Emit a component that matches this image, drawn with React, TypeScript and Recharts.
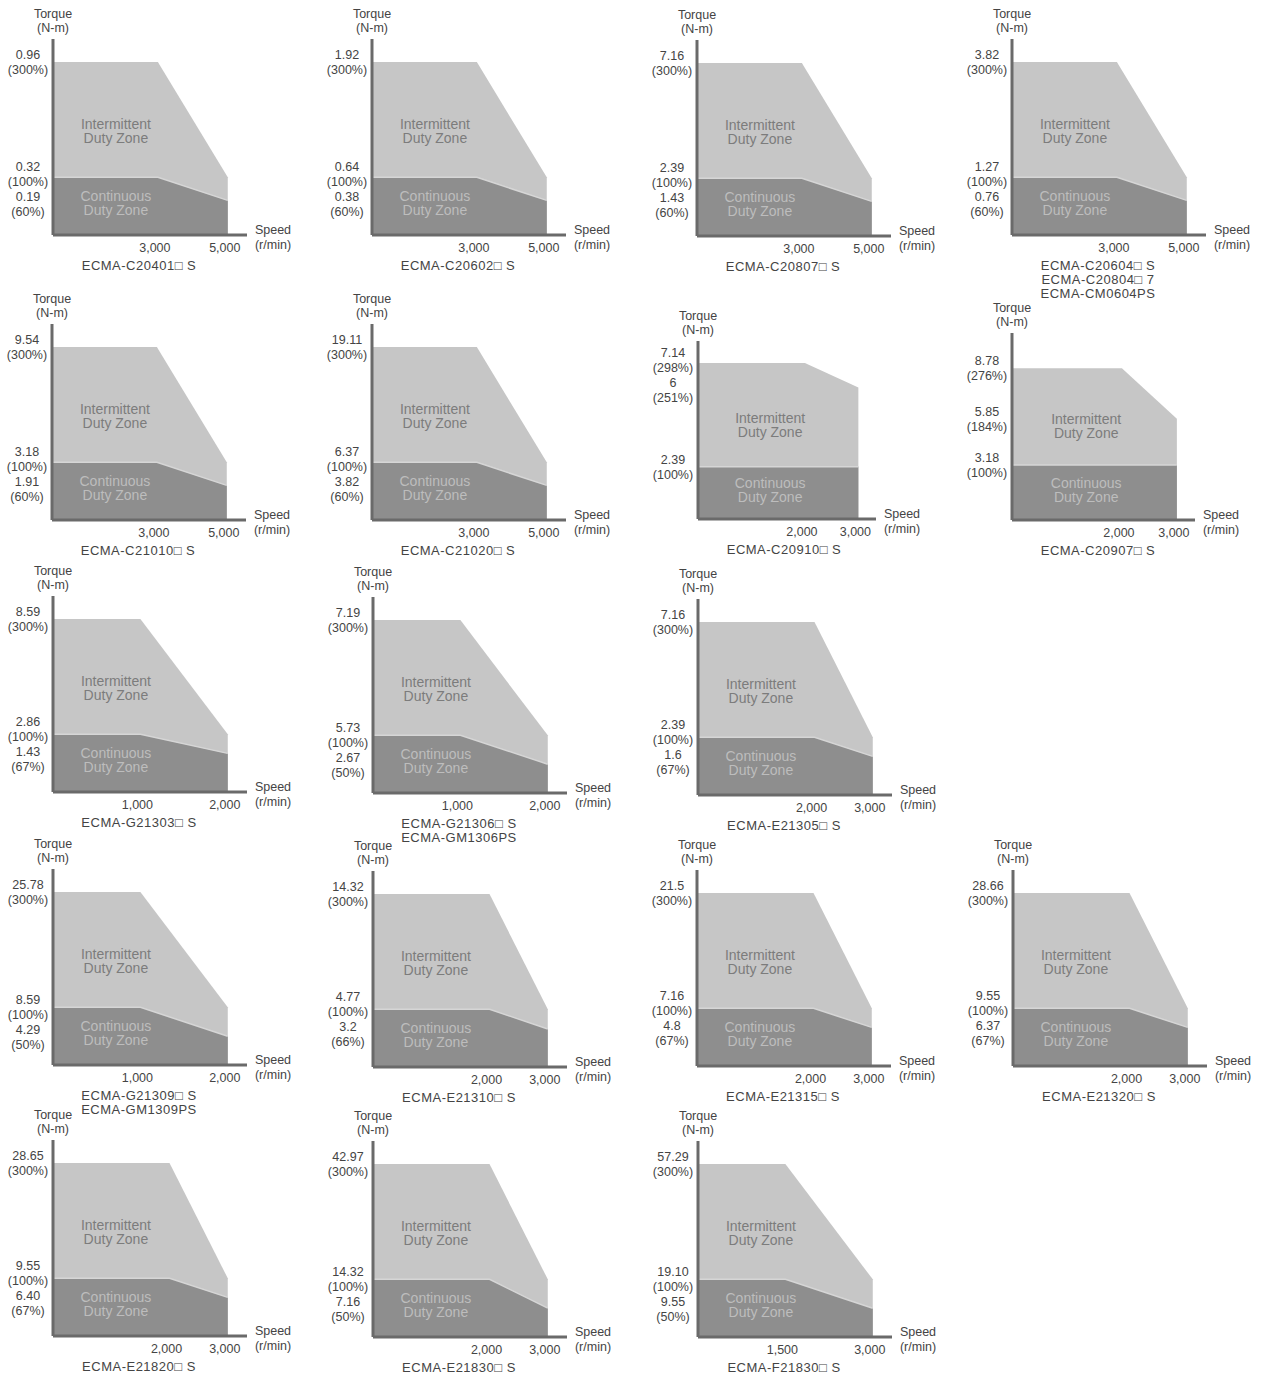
import React from 'react';
import { ComposedChart, Area, XAxis, YAxis, ReferenceDot, Label } from 'recharts';

// ---------- data ----------
const models: string[][] = [
  ['ECMA-C20401□ S'],
  ['ECMA-C20602□ S'],
  ['ECMA-C20807□ S'],
  ['ECMA-C20604□ S', 'ECMA-C20804□ 7', 'ECMA-CM0604PS'],
  ['ECMA-C21010□ S'],
  ['ECMA-C21020□ S'],
  ['ECMA-C20910□ S'],
  ['ECMA-C20907□ S'],
  ['ECMA-G21303□ S'],
  ['ECMA-G21306□ S', 'ECMA-GM1306PS'],
  ['ECMA-E21305□ S'],
  ['ECMA-G21309□ S', 'ECMA-GM1309PS'],
  ['ECMA-E21310□ S'],
  ['ECMA-E21315□ S'],
  ['ECMA-E21320□ S'],
  ['ECMA-E21820□ S'],
  ['ECMA-E21830□ S'],
  ['ECMA-F21830□ S'],
];

// speed (r/min)
const bendSpeeds = [3000, 3000, 3000, 3000, 3000, 3000, 2000, 2000, 1000, 1000, 2000, 1000, 2000, 2000, 2000, 2000, 2000, 1500];
const maxSpeeds = [5000, 5000, 5000, 5000, 5000, 5000, 3000, 3000, 2000, 2000, 3000, 2000, 3000, 3000, 3000, 3000, 3000, 3000];

// torque as % of rated torque
const peakPcts = [300, 300, 300, 300, 300, 300, 298, 276, 300, 300, 300, 300, 300, 300, 300, 300, 300, 300];
const interEndPcts = [100, 100, 100, 100, 100, 100, 251, 184, 100, 100, 100, 100, 100, 100, 100, 100, 100, 100];
const ratedPct = 100;
const contEndPcts = [60, 60, 60, 60, 60, 60, 100, 100, 67, 50, 67, 50, 66, 67, 67, 67, 50, 50];

// torque axis tick labels (N-m) and their % positions
const torqueTickTexts: string[][] = [
  ['0.96', '0.32', '0.19'],
  ['1.92', '0.64', '0.38'],
  ['7.16', '2.39', '1.43'],
  ['3.82', '1.27', '0.76'],
  ['9.54', '3.18', '1.91'],
  ['19.11', '6.37', '3.82'],
  ['7.14', '6', '2.39'],
  ['8.78', '5.85', '3.18'],
  ['8.59', '2.86', '1.43'],
  ['7.19', '5.73', '2.67'],
  ['7.16', '2.39', '1.6'],
  ['25.78', '8.59', '4.29'],
  ['14.32', '4.77', '3.2'],
  ['21.5', '7.16', '4.8'],
  ['28.66', '9.55', '6.37'],
  ['28.65', '9.55', '6.40'],
  ['42.97', '14.32', '7.16'],
  ['57.29', '19.10', '9.55'],
];
const torqueTickPcts: number[][] = [
  [300, 100, 60], [300, 100, 60], [300, 100, 60], [300, 100, 60],
  [300, 100, 60], [300, 100, 60], [298, 251, 100], [276, 184, 100],
  [300, 100, 67], [300, 100, 50], [300, 100, 67],
  [300, 100, 50], [300, 100, 66], [300, 100, 67], [300, 100, 67],
  [300, 100, 67], [300, 100, 50], [300, 100, 50],
];

// ---------- layout ----------
const ORIGINS: number[][] = [
  [53, 235], [372, 235], [697, 236], [1012, 235],
  [52, 520], [372, 520], [698, 519], [1012, 520],
  [53, 792], [373, 793], [698, 795],
  [53, 1065], [373, 1067], [697, 1066], [1013, 1066],
  [53, 1336], [373, 1337], [698, 1337],
];
const SIZES: number[][] = ORIGINS.map((_, i) => (i === 6 ? [178, 178] : i === 7 ? [183, 187] : [194, 196]));

const FONT = '"Liberation Sans", Arial, Helvetica, sans-serif';
const TEXT = '#444444';
const AXIS = '#6a6a6a';
const INTER = '#c6c6c6';
const CONT = '#8e8e8e';
const Y_TOP = 340;
const X_PAD = 1.11;
const YW = 53;
const MT = 40;
const MR = 62;
const XH = 85;

function Panel({ i }: { i: number }) {
  const [ox, oy] = ORIGINS[i];
  const [pw, ph] = SIZES[i];
  const width = YW + pw + MR;
  const height = MT + ph + XH;
  const bend = bendSpeeds[i];
  const max = maxSpeeds[i];
  const data = [
    { speed: 0, inter: peakPcts[i], cont: ratedPct },
    { speed: bend, inter: peakPcts[i], cont: ratedPct },
    { speed: max, inter: interEndPcts[i], cont: contEndPcts[i] },
  ];
  const xTop = max * X_PAD;
  const yTicks = torqueTickPcts[i];
  const pxPerPct = ph / Y_TOP;
  const shifts = yTicks.map(() => 0);
  for (let k = 0; k < yTicks.length - 1; k++) {
    const gap = (yTicks[k] - yTicks[k + 1]) * pxPerPct;
    if (gap < 30) {
      const s = (30 - gap) / 2;
      shifts[k] -= s;
      shifts[k + 1] += s;
    }
  }
  const flat = contEndPcts[i] >= ratedPct;
  const zoneX = max * (flat ? 0.45 : 0.36);
  const interY = ratedPct + 0.4 * (peakPcts[i] - ratedPct);
  const contY = ratedPct * 0.55;

  const textStyle = { fontFamily: FONT, fontSize: 12.5, fill: TEXT } as any;

  const renderYTick = (props: any) => {
    const { x, y, payload } = props;
    const k = yTicks.indexOf(payload.value);
    if (k < 0) return <g />;
    const c = y + shifts[k];
    return (
      <g>
        <text x={x - 25} y={c - 7.5 + 4.5} textAnchor="middle" style={textStyle}>
          {torqueTickTexts[i][k]}
        </text>
        <text x={x - 25} y={c + 7.5 + 4.5} textAnchor="middle" style={textStyle}>
          {`(${yTicks[k]}%)`}
        </text>
      </g>
    );
  };

  const renderXTick = (props: any) => {
    const { x, y, payload } = props;
    return (
      <text x={x - 3} y={y + 17} textAnchor="middle" style={textStyle}>
        {Number(payload.value).toLocaleString('en-US')}
      </text>
    );
  };

  const renderYLabel = (props: any) => {
    const vb = props.viewBox || {};
    const cx = (vb.x || 0) + (vb.width || 0);
    const top = vb.y || 0;
    return (
      <g>
        <text x={cx} y={top - 21.5} textAnchor="middle" style={textStyle}>Torque</text>
        <text x={cx} y={top - 7.5} textAnchor="middle" style={textStyle}>(N-m)</text>
      </g>
    );
  };

  const renderXLabel = (props: any) => {
    const vb = props.viewBox || {};
    const x0 = vb.x || 0;
    const y0 = vb.y || 0;
    const sx = x0 + (vb.width || 0) + 26;
    return (
      <g>
        <text x={sx} y={y0 - 1.5} textAnchor="middle" style={textStyle}>Speed</text>
        <text x={sx} y={y0 + 13.5} textAnchor="middle" style={textStyle}>(r/min)</text>
        {models[i].map((m, j) => (
          <text
            key={j}
            x={x0 + 86}
            y={y0 + 34.5 + j * 14}
            textAnchor="middle"
            style={{ ...textStyle, fontSize: 13, letterSpacing: 0.5 }}
          >
            {m}
          </text>
        ))}
      </g>
    );
  };

  const zoneLabel = (lines: string[], color: string) => (props: any) => {
    const vb = props.viewBox || {};
    const cx = (vb.x || 0) + (vb.width || 0) / 2;
    const cy = (vb.y || 0) + (vb.height || 0) / 2;
    return (
      <g>
        {lines.map((l, j) => (
          <text
            key={j}
            x={cx}
            y={cy - 7 + j * 14 + 5}
            textAnchor="middle"
            style={{ fontFamily: FONT, fontSize: 14, fill: color }}
          >
            {l}
          </text>
        ))}
      </g>
    );
  };

  return (
    <div style={{ position: 'absolute', left: ox - YW, top: oy - MT - ph, width, height }}>
      <ComposedChart width={width} height={height} data={data} margin={{ top: MT, right: MR, bottom: 0, left: 0 }}>
        <XAxis
          type="number"
          dataKey="speed"
          domain={[0, xTop]}
          ticks={[bend, max]}
          interval={0}
          allowDataOverflow
          tick={renderXTick}
          tickLine={false}
          tickSize={0}
          tickMargin={0}
          axisLine={{ stroke: AXIS, strokeWidth: 3 }}
          height={XH}
        >
          <Label content={renderXLabel} />
        </XAxis>
        <YAxis
          type="number"
          domain={[0, Y_TOP]}
          ticks={yTicks}
          interval={0}
          allowDataOverflow
          width={YW}
          tick={renderYTick}
          tickLine={false}
          tickSize={0}
          tickMargin={0}
          axisLine={{ stroke: AXIS, strokeWidth: 3 }}
        >
          <Label content={renderYLabel} />
        </YAxis>
        <Area
          type="linear"
          dataKey="inter"
          baseValue={0}
          fill={INTER}
          fillOpacity={1}
          stroke="none"
          isAnimationActive={false}
        />
        <Area
          type="linear"
          dataKey="cont"
          baseValue={0}
          fill={CONT}
          fillOpacity={1}
          stroke="#d6d6d6"
          strokeWidth={1.5}
          isAnimationActive={false}
        />
        <ReferenceDot x={zoneX} y={interY} r={1} fill="none" stroke="none">
          <Label content={zoneLabel(['Intermittent', 'Duty Zone'], '#7c7c7c')} />
        </ReferenceDot>
        <ReferenceDot x={zoneX} y={contY} r={1} fill="none" stroke="none">
          <Label content={zoneLabel(['Continuous', 'Duty Zone'], '#bdbdbd')} />
        </ReferenceDot>
      </ComposedChart>
    </div>
  );
}

export default function App() {
  return (
    <div style={{ position: 'absolute', left: 0, top: 0, width: 1268, height: 1376, background: '#ffffff', overflow: 'hidden' }}>
      {models.map((_, i) => (
        <Panel key={i} i={i} />
      ))}
    </div>
  );
}
